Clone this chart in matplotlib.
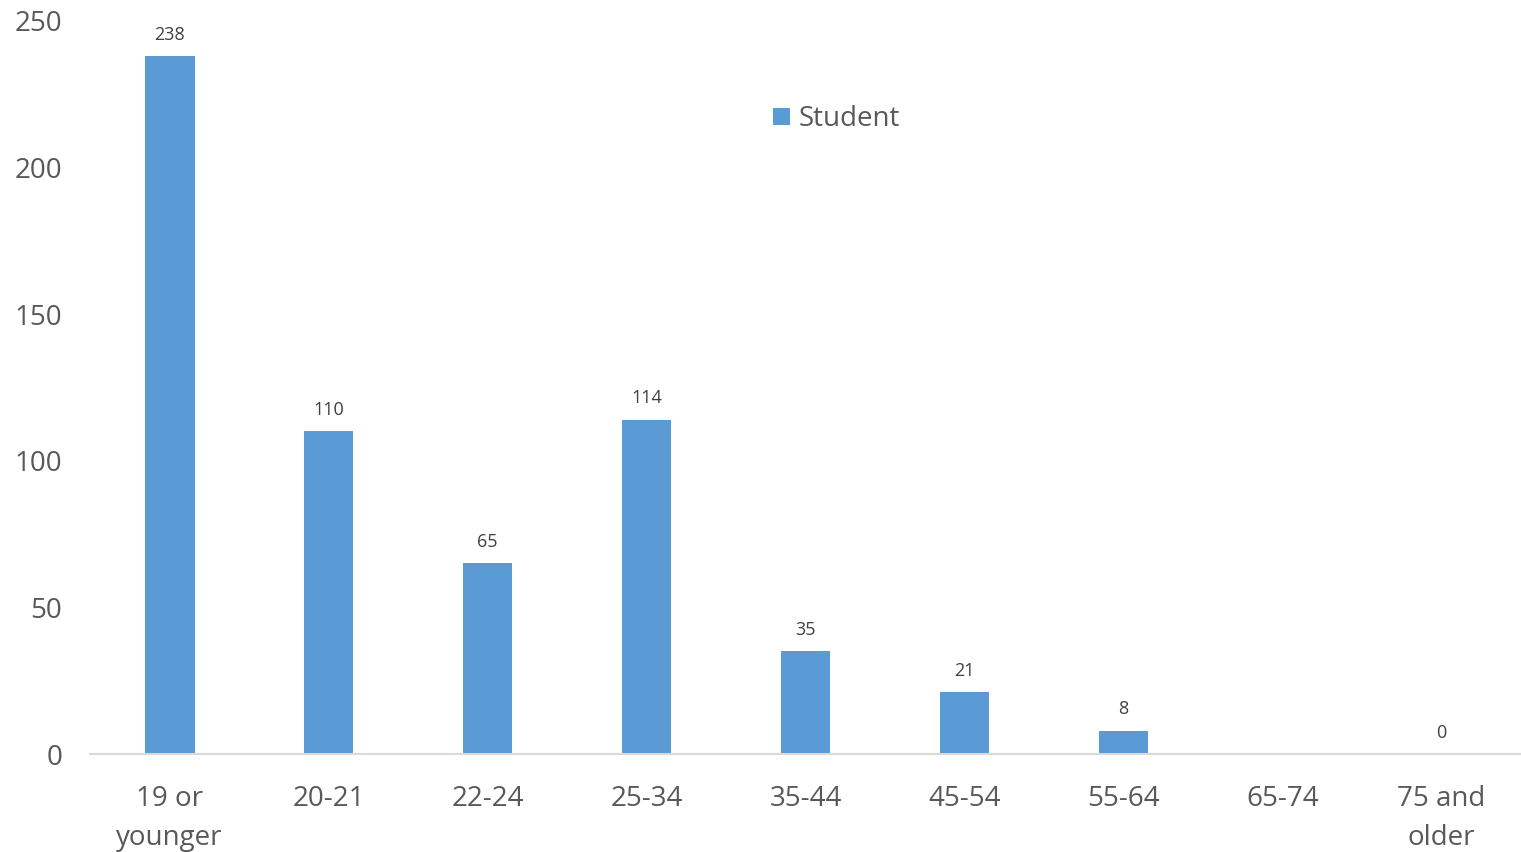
import numpy as np
import matplotlib.pyplot as plt

plt.rcParams['font.family'] = ['Open Sans', 'DejaVu Sans']

categories = ['19 or\nyounger', '20-21', '22-24', '25-34', '35-44',
              '45-54', '55-64', '65-74', '75 and\nolder']
students = [238, 110, 65, 114, 35, 21, 8, np.nan, 0]

bar_color = '#5B9BD5'
text_color = '#595959'

fig = plt.figure(figsize=(15.21, 8.52), dpi=100)
ax = fig.add_axes([0.0592, 0.115, 0.9408, 0.8604])

x = np.arange(len(categories))
heights = np.nan_to_num(np.array(students, dtype=float))
ax.bar(x, heights, width=0.314, color=bar_color, label='Student')

# value labels, none for the empty 65-74 group
for xi, v in zip(x, students):
    if np.isnan(v):
        continue
    ax.annotate(f'{int(v)}', (xi, v), xytext=(0, 9), textcoords='offset points',
                ha='center', va='bottom', fontsize=13, color='#404040')

ax.set_xlim(-0.5, len(categories) - 0.5)
ax.set_ylim(0, 250)
ax.set_yticks([0, 50, 100, 150, 200, 250])
ax.set_xticks(x)
ax.set_xticklabels(categories, fontsize=20, color=text_color, linespacing=1.55)
ax.tick_params(axis='y', labelsize=20, labelcolor=text_color, length=0, pad=20)
ax.tick_params(axis='x', length=0, pad=22)

for s in ['top', 'right', 'left']:
    ax.spines[s].set_visible(False)
ax.spines['bottom'].set_color('#D9D9D9')
ax.spines['bottom'].set_linewidth(1.5)

fig.legend(loc='center left', bbox_to_anchor=(0.492, 0.860), frameon=False,
           fontsize=20, handlelength=0.6, handleheight=0.6, handletextpad=0.3,
           labelcolor=text_color)

fig.savefig('out.png', dpi=100)
